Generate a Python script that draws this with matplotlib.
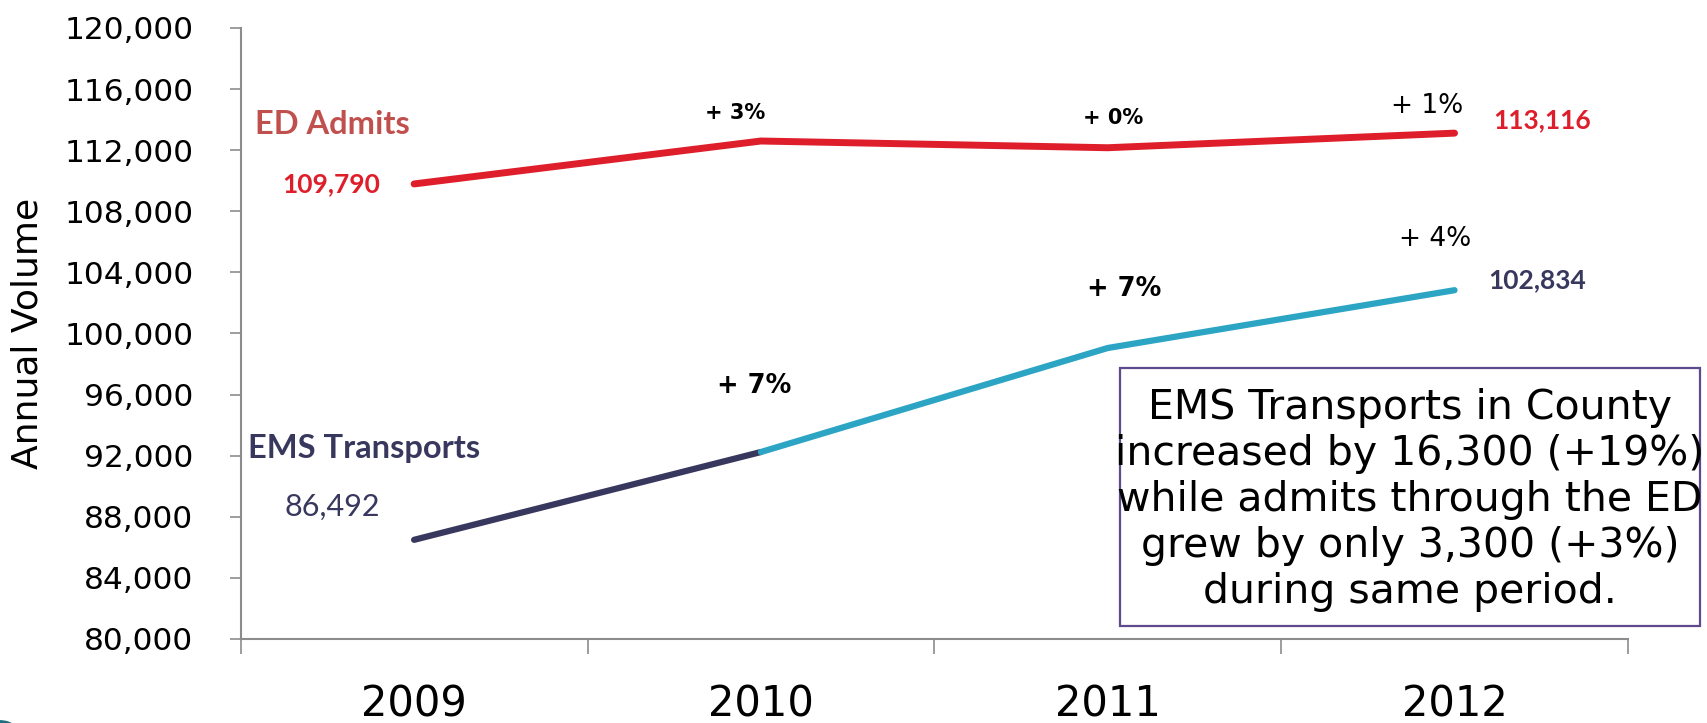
#!/usr/bin/python3

import matplotlib
matplotlib.use('Agg')
import matplotlib.pyplot as plt
from matplotlib.patches import Rectangle, Ellipse
from matplotlib.ticker import FuncFormatter

plt.rcParams['font.family'] = ['DejaVu Sans']

years = ['2009', '2010', '2011', '2012']
ed_admits = [109790, 112600, 112160, 113116]
ems_transports = [86492, 92240, 99050, 102834]

ed_changes = ['+ 3%', '+ 0%', '+ 1%']
ems_changes = ['+ 7%', '+ 7%', '+ 4%']

note = ('EMS Transports in County\n'
        'increased by 16,300 (+19%)\n'
        'while admits through the ED\n'
        'grew by only 3,300 (+3%)\n'
        'during same period.')

__red = '#de1f2b'
__red_label = '#c0504d'
__navy = '#38385e'
__teal = '#2ca4c4'
__axis_gray = '#8c8c8c'

fig = plt.figure(figsize=(17.07, 7.23), dpi=100)
ax = fig.add_axes([0.141, 0.1162, 0.8127, 0.8451])

x = list(range(len(years)))
ax.plot(x, ed_admits, color=__red, lw=5, solid_capstyle='round', solid_joinstyle='round')
ax.plot(x[:2], ems_transports[:2], color=__navy, lw=4.5, solid_capstyle='round')
ax.plot(x[1:], ems_transports[1:], color=__teal, lw=4.5, solid_capstyle='round',
        solid_joinstyle='round')

ax.set_xlim(-0.5, 3.5)
ax.set_ylim(80000, 120000)
ax.set_yticks(range(80000, 120001, 4000))
ax.yaxis.set_major_formatter(FuncFormatter(lambda v, p: f'{int(v):,}'))

# category labels sit between the tick marks
ax.set_xticks([i - 0.5 for i in range(len(years) + 1)])
ax.set_xticklabels([])
ax.set_xticks(x, minor=True)
ax.set_xticklabels(years, minor=True)
ax.tick_params(axis='x', which='major', length=11, width=1.2, color=__axis_gray, direction='out')
ax.tick_params(axis='x', which='minor', length=0, pad=32, labelsize=30)
ax.tick_params(axis='y', length=8, width=1.2, color=__axis_gray, pad=26, labelsize=22.5)

for side in ['top', 'right']:
    ax.spines[side].set_visible(False)
for side in ['left', 'bottom']:
    ax.spines[side].set_color(__axis_gray)
    ax.spines[side].set_linewidth(1.5)

ax.set_ylabel('Annual Volume', fontsize=26, labelpad=14)

# series names and end values
lato = ['Lato', 'DejaVu Sans']
ax.text(-0.459, 113650, 'ED Admits', color=__red_label, fontsize=23.5, fontweight='bold',
        family=lato, ha='left', va='center')
ax.text(-0.24, ed_admits[0], f'{ed_admits[0]:,}', color=__red, fontsize=19, fontweight='bold',
        family=lato, ha='center', va='center')
ax.text(3.253, 113977, f'{ed_admits[-1]:,}', color=__red, fontsize=19, fontweight='bold',
        family=lato, ha='center', va='center')
ax.text(-0.479, 92500, 'EMS Transports', color=__navy, fontsize=23.5, fontweight='bold',
        family=lato, ha='left', va='center')
ax.text(-0.237, 88640, f'{ems_transports[0]:,}', color=__navy, fontsize=22,
        family=lato, ha='center', va='center')
ax.text(3.239, 103502, f'{ems_transports[-1]:,}', color=__navy, fontsize=19, fontweight='bold',
        family=lato, ha='center', va='center')

# year-over-year changes
ed_pos = [(0.925, 114435, 15, 'bold'), (2.016, 114108, 15, 'bold'), (2.921, 114893, 19, 'normal')]
ems_pos = [(0.982, 96562, 18.5, 'bold'), (2.048, 102912, 18.5, 'bold'), (2.945, 106186, 19, 'normal')]
for label, (px, py, fs, fw) in zip(ed_changes + ems_changes, ed_pos + ems_pos):
    ax.text(px, py, label, fontsize=fs, fontweight=fw, ha='center', va='center')

# summary box
fig.patches.append(Rectangle((0.656, 0.134), 0.3398, 0.357, transform=fig.transFigure,
                             fill=False, edgecolor='#5e4a8c', lw=1.6))
fig.text(0.826, 0.3085, note, fontsize=29.5, ha='center', va='center', linespacing=1.2)

fig.patches.append(Ellipse((0.0, -0.012), 0.02, 0.03, transform=fig.transFigure,
                           color='#1d6e7d'))

fig.savefig('out.png', dpi=100)
